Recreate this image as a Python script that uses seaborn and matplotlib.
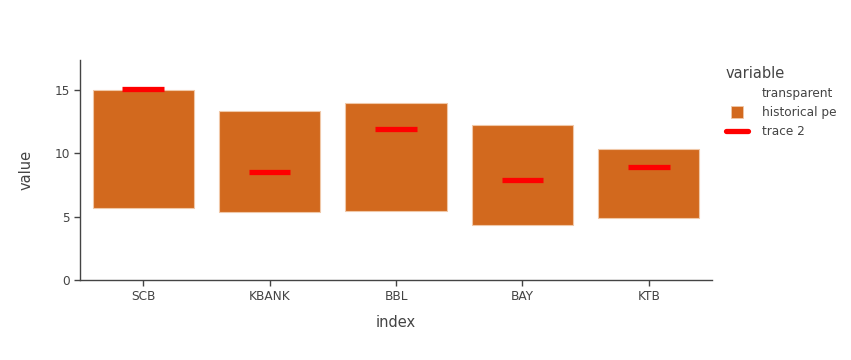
import matplotlib
matplotlib.use("Agg")
import matplotlib.pyplot as plt
import seaborn as sns
import pandas as pd
from matplotlib.lines import Line2D

categories = ["SCB", "KBANK", "BBL", "BAY", "KTB"]
transparent = [5.66, 5.34, 5.42, 4.32, 4.89]
historical_pe = [9.34, 8.03, 8.55, 7.94, 5.48]
trace2 = [15.05, 8.50, 11.89, 7.87, 8.89]

df = pd.DataFrame({"index": categories, "transparent": transparent,
                   "historical pe": historical_pe, "trace 2": trace2})

sns.set_theme(style="white")
plt.rcParams["font.family"] = ["DejaVu Sans"]

fig = plt.figure(figsize=(8.51, 3.6), dpi=100)
ax = fig.add_axes([80/851, 80/360, 632/851, 220/360])

orange = "#D2691E"
sns.barplot(data=df, x="index", y="historical pe", bottom=df["transparent"].values,
            color=orange, saturation=1, width=0.8, edgecolor="#f0c8a8", linewidth=0.8, ax=ax)

ax.hlines(df["trace 2"], [i - 0.165 for i in range(len(categories))],
          [i + 0.165 for i in range(len(categories))], colors="#FF0000", linewidth=3.8, zorder=5)

ax.set_xlim(-0.5, 4.5)
ax.set_ylim(0, 17.37)
ax.set_yticks([0, 5, 10, 15])
ax.set_xlabel("index", fontsize=10.5, color="#444444", labelpad=8)
ax.set_ylabel("value", fontsize=10.5, color="#444444", labelpad=15)
ax.tick_params(axis="both", colors="#444444", labelsize=8.7, length=4, width=1, direction="out",
               bottom=True, left=True)
for lab in ax.get_xticklabels() + ax.get_yticklabels():
    lab.set_color("#444444")
for s in ["top", "right"]:
    ax.spines[s].set_visible(False)
for s in ["left", "bottom"]:
    ax.spines[s].set_color("#444444")
    ax.spines[s].set_linewidth(1)
ax.grid(False)

handles = [Line2D([0], [0], linestyle="none", marker="s", markersize=0, label="transparent"),
           Line2D([0], [0], linestyle="none", marker="s", markersize=8.5,
                  markerfacecolor=orange, markeredgecolor="#f0c8a8", markeredgewidth=0.6,
                  label="historical pe"),
           Line2D([0], [0], color="#FF0000", linewidth=3.8, label="trace 2")]
leg = fig.legend(handles=handles, title="variable", loc="upper left",
                 bbox_to_anchor=(715/851, 1 - 55/360), frameon=False,
                 fontsize=8.7, title_fontsize=10.5, handlelength=1.8,
                 handletextpad=1.2, labelspacing=0.5, alignment="left")
leg.get_title().set_color("#444444")
for t in leg.get_texts():
    t.set_color("#444444")

fig.savefig("out.png", dpi=100)
